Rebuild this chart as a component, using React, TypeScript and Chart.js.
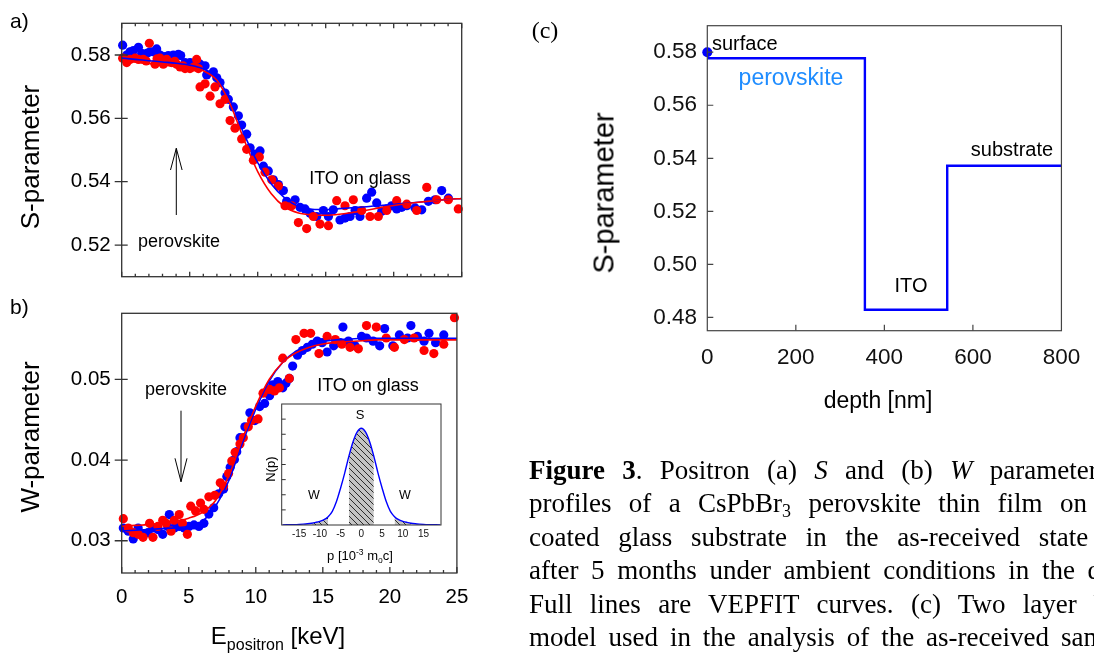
import React, { useEffect, useRef } from "react";
import { Chart, registerables } from "chart.js";
Chart.register(...registerables);

// ---------------- panel (a): S-parameter vs positron energy ----------------
const A_BLUE_E = [0.07,0.37,0.61,0.86,1.23,1.47,1.84,2.08,2.33,2.57,2.82,3.19,3.43,3.8,4.17,4.34,4.66,5.02,5.39,5.76,6.13,6.25,6.74,6.99,7.23,7.6,7.84,8.21,8.58,8.82,9.19,9.44,9.8,10.17,10.42,10.78,11.15,11.52,11.89,12.13,12.75,13.11,13.48,13.85,14.34,14.83,15.2,15.56,16.05,16.42,16.79,17.16,17.52,18.01,18.38,18.75,19.12,19.49,19.85,20.22,20.59,20.96,21.57,22.06,22.55,23.04,23.53,24.02];
const A_BLUE_S = [0.5831,0.58,0.581,0.5814,0.5824,0.5805,0.5805,0.581,0.581,0.5819,0.58,0.5795,0.5798,0.58,0.5802,0.5798,0.5776,0.5776,0.5776,0.5771,0.5766,0.5737,0.5747,0.5728,0.5713,0.568,0.566,0.5636,0.5608,0.5579,0.555,0.5507,0.5487,0.5497,0.5449,0.5434,0.5406,0.5391,0.5372,0.5338,0.5343,0.5319,0.5314,0.53,0.529,0.5309,0.529,0.5311,0.5279,0.5285,0.529,0.5309,0.529,0.5348,0.5367,0.5333,0.5307,0.5314,0.5324,0.5314,0.5319,0.5324,0.5317,0.5311,0.5338,0.5343,0.5372,0.5348];
const A_RED_E = [0.07,0.37,0.61,0.98,1.23,1.59,2.03,2.45,2.82,3.06,3.31,3.68,4.04,4.29,4.66,5.02,5.51,5.64,5.76,6.13,6.5,6.86,7.23,7.6,7.97,8.33,8.82,9.19,9.68,10.12,10.54,11.03,11.52,12.01,12.5,12.99,13.6,14.09,14.58,15.2,15.81,16.42,17.03,17.65,18.26,18.87,19.49,20.22,20.96,21.69,22.43,23.16,24.02,24.75,1.8,2.6,3.9,4.5,5.3];
const A_RED_S = [0.579,0.5776,0.5786,0.579,0.5786,0.5786,0.5837,0.5771,0.579,0.5771,0.5786,0.5776,0.5771,0.5762,0.5757,0.5757,0.5786,0.5757,0.5699,0.5709,0.567,0.5699,0.5646,0.566,0.5593,0.5569,0.5535,0.5502,0.5468,0.5478,0.543,0.5406,0.5386,0.5324,0.5324,0.5271,0.5252,0.529,0.5266,0.5261,0.534,0.5324,0.5343,0.5309,0.529,0.529,0.5309,0.534,0.5329,0.5309,0.5382,0.5343,0.5343,0.5314,0.5781,0.5788,0.578,0.5766,0.5762];
const FIT_E = [0,1,2,3,4,5,6,7,8,9,10,11,12,13,14,15,16,17,18,19,20,21,22,23,24,25];
const A_BLUE_FIT = [0.579,0.5786,0.5782,0.5778,0.5774,0.5768,0.5756,0.5728,0.5655,0.555,0.546,0.5393,0.5348,0.5322,0.5313,0.5312,0.5315,0.5318,0.5321,0.5325,0.5328,0.5332,0.5336,0.534,0.5344,0.5347];
const A_RED_FIT = [0.5785,0.5778,0.5773,0.5768,0.5764,0.576,0.575,0.572,0.5642,0.5532,0.5432,0.5362,0.532,0.5301,0.5295,0.5294,0.5297,0.5303,0.531,0.5318,0.5325,0.5331,0.5336,0.534,0.5344,0.5347];

// ---------------- panel (b): W-parameter ----------------
const B_BLUE_E = [0.12,0.49,0.86,1.23,1.59,1.96,2.33,2.7,3.06,3.43,3.55,3.92,4.29,4.66,5.02,5.39,5.76,6.13,6.5,6.86,7.23,7.6,7.84,8.09,8.41,8.58,8.82,9.19,9.56,9.93,10.29,10.66,11.03,11.27,11.64,12.01,12.25,12.5,12.75,13.11,13.48,13.85,14.22,14.58,14.95,15.32,15.81,16.3,16.5,16.91,17.4,17.89,18.26,18.75,19.24,19.61,20.22,20.71,21.32,21.57,22.06,22.55,22.92,23.41,24.02];
const B_BLUE_W = [0.03158,0.03119,0.03022,0.03158,0.0308,0.031,0.03158,0.03138,0.0308,0.03177,0.03324,0.03158,0.03177,0.03158,0.03177,0.03196,0.03177,0.03216,0.03331,0.03409,0.03582,0.0364,0.03795,0.03911,0.04007,0.04104,0.04278,0.04413,0.04587,0.0449,0.04664,0.04703,0.04799,0.04934,0.04973,0.04896,0.04954,0.05012,0.05166,0.05301,0.05359,0.05398,0.05436,0.05475,0.05456,0.0534,0.05417,0.05456,0.05649,0.05475,0.05417,0.05533,0.05514,0.05475,0.05417,0.0563,0.05417,0.05552,0.05514,0.05668,0.05533,0.05475,0.05572,0.05456,0.05552];
const B_RED_E = [0.12,0.49,0.86,1.23,1.59,2.08,2.33,2.7,3.06,3.31,3.68,3.92,4.29,4.53,4.9,5.15,5.51,5.88,6.13,6.5,6.94,7.35,7.6,7.97,8.21,8.46,8.82,9.07,9.44,9.68,10.17,10.54,11.03,11.4,11.76,12.01,12.5,12.99,13.6,14.09,14.71,15.32,15.93,16.42,17.03,17.65,18.26,18.99,19.73,20.34,21.08,21.81,22.55,23.28,24.02,24.82];
const B_RED_W = [0.03273,0.03158,0.031,0.0308,0.03042,0.03216,0.03042,0.03177,0.03254,0.03216,0.03119,0.03254,0.03324,0.03216,0.0308,0.03428,0.0337,0.03467,0.03389,0.03544,0.03563,0.03718,0.03679,0.03834,0.03988,0.04096,0.042,0.04278,0.04413,0.0449,0.0451,0.0483,0.04876,0.04857,0.04896,0.05263,0.05012,0.05494,0.05572,0.05572,0.05321,0.05533,0.05494,0.05436,0.05398,0.05379,0.05668,0.05649,0.05514,0.05398,0.05494,0.05514,0.05359,0.05321,0.05436,0.05765];
const B_BLUE_FIT = [0.0312,0.0313,0.0314,0.0315,0.0316,0.0318,0.0324,0.0343,0.0375,0.0421,0.0463,0.0498,0.0521,0.0535,0.0543,0.0547,0.0549,0.055,0.0551,0.0551,0.0551,0.0551,0.0551,0.0551,0.0551,0.0551];
const B_RED_FIT = [0.0318,0.0319,0.032,0.0322,0.0324,0.0328,0.0335,0.035,0.0381,0.0426,0.0467,0.05,0.0521,0.0533,0.054,0.0544,0.0546,0.0547,0.0548,0.0549,0.0549,0.0549,0.0549,0.0549,0.0549,0.0549];

// ---------------- inset: momentum distribution N(p) ----------------
const INSET_P = [-19,-18,-17,-16,-15,-14,-13,-12,-11,-10,-9,-8,-7,-6,-5,-4,-3,-2,-1,0,1,2,3,4,5,6,7,8,9,10,11,12,13,14,15,16,17,18,19];
const INSET_N = [0.002,0.003,0.004,0.005,0.008,0.012,0.017,0.024,0.035,0.049,0.07,0.11,0.18,0.31,0.49,0.69,0.91,1.1,1.23,1.28,1.23,1.1,0.91,0.69,0.49,0.31,0.18,0.11,0.07,0.049,0.035,0.024,0.017,0.012,0.008,0.005,0.004,0.003,0.002];
const S_WINDOW = [-3, 3];
const W_WINDOW = [8, 12];

// ---------------- panel (c): VEPFIT two-layer model ----------------
const DEPTH = [0, 356, 542, 800];
const S_PROFILE = [0.5777, 0.4829, 0.5372, 0.5372];
const SURFACE_DEPTH = [0];
const SURFACE_S = [0.58];

// ---------------- ticks ----------------
const E_TICKS = [0, 5, 10, 15, 20, 25];
const E_MINOR = [1,2,3,4,6,7,8,9,11,12,13,14,16,17,18,19,21,22,23,24];
const S_TICKS_A = [0.52, 0.54, 0.56, 0.58];
const W_TICKS_B = [0.03, 0.04, 0.05];
const P_TICKS = [-15, -10, -5, 0, 5, 10, 15];
const N_TICKS = [0.2, 0.4, 0.6, 0.8, 1.0, 1.2, 1.4];
const DEPTH_TICKS = [0, 200, 400, 600, 800];
const DEPTH_INNER = [200, 400, 600];
const S_TICKS_C = [0.48, 0.5, 0.52, 0.54, 0.56, 0.58];

const SANS = "'Liberation Sans', Arial, Helvetica, sans-serif";
const SERIF = "'Liberation Serif', 'Times New Roman', serif";
const BLUE = "#0000ff";
const RED = "#ff0000";

type FrameCfg = {
  color: string; width: number; bg?: string;
  xMajor?: number[]; xMinor?: number[]; xMajorLen?: number; xMinorLen?: number;
  top?: boolean; bottom?: boolean;
  yMajor?: number[]; yIn?: number; yOut?: number;
};

function frame(cfg: FrameCfg) {
  return {
    id: "frame",
    beforeDatasetsDraw(chart: any) {
      if (!cfg.bg) return;
      const { ctx, chartArea: a } = chart;
      ctx.save();
      ctx.fillStyle = cfg.bg;
      ctx.fillRect(a.left, a.top, a.right - a.left, a.bottom - a.top);
      ctx.restore();
    },
    afterDatasetsDraw(chart: any) {
      const { ctx, chartArea: a, scales } = chart;
      const xs = scales.x, ys = scales.y;
      ctx.save();
      ctx.strokeStyle = cfg.color;
      ctx.lineWidth = cfg.width;
      ctx.beginPath();
      const xt = (vals: number[] | undefined, len: number) => {
        (vals || []).forEach((v) => {
          const px = xs.getPixelForValue(v);
          if (cfg.bottom) { ctx.moveTo(px, a.bottom); ctx.lineTo(px, a.bottom - len); }
          if (cfg.top) { ctx.moveTo(px, a.top); ctx.lineTo(px, a.top + len); }
        });
      };
      xt(cfg.xMajor, cfg.xMajorLen || 5);
      xt(cfg.xMinor, cfg.xMinorLen || 3);
      (cfg.yMajor || []).forEach((v) => {
        const py = ys.getPixelForValue(v);
        ctx.moveTo(a.left - (cfg.yOut || 0), py);
        ctx.lineTo(a.left + (cfg.yIn || 0), py);
      });
      ctx.stroke();
      ctx.strokeRect(a.left, a.top, a.right - a.left, a.bottom - a.top);
      ctx.restore();
    },
  };
}

const pts = (xs: number[], ys: number[]) => xs.map((x, i) => ({ x, y: ys[i] }));

const baseOpts = {
  responsive: false,
  animation: false as const,
  events: [] as any[],
  plugins: { legend: { display: false }, tooltip: { enabled: false } },
};

const lineDs = (data: any[], color: string, order: number) => ({
  data, showLine: true, borderColor: color, borderWidth: 1.6, pointRadius: 0,
  cubicInterpolationMode: "monotone" as const, order, fill: false,
});
const dotDs = (data: any[], color: string, order: number) => ({
  data, pointRadius: 4.6, pointBackgroundColor: color, pointBorderWidth: 0,
  pointBorderColor: color, showLine: false, clip: false as any, order,
});

function Txt(p: { x: number; y: number; size: number; children: any; rot?: number; color?: string; family?: string; align?: string; style?: any }) {
  const tx = p.align === "left" ? "0" : p.align === "right" ? "-100%" : "-50%";
  return (
    <div style={{
      position: "absolute", left: p.x, top: p.y, fontSize: p.size, fontFamily: p.family || SANS,
      color: p.color || "#000", whiteSpace: "nowrap", lineHeight: 1,
      transform: `translate(${tx},-50%)${p.rot ? ` rotate(${p.rot}deg)` : ""}`, ...(p.style || {}),
    }}>{p.children}</div>
  );
}

function CapLine(p: { y: number; ws: number; children: any }) {
  return (
    <div style={{
      position: "absolute", left: 529, top: p.y - 16, fontFamily: SERIF, fontSize: 27,
      lineHeight: "32px", whiteSpace: "nowrap", wordSpacing: p.ws, color: "#000",
    }}>{p.children}</div>
  );
}

export default function App() {
  const aRef = useRef<HTMLCanvasElement>(null);
  const bRef = useRef<HTMLCanvasElement>(null);
  const iRef = useRef<HTMLCanvasElement>(null);
  const cRef = useRef<HTMLCanvasElement>(null);

  useEffect(() => {
    const charts: Chart[] = [];
    const tickFont = { family: SANS, size: 20.5 };

    // panel a
    charts.push(new Chart(aRef.current!, {
      type: "scatter",
      data: { datasets: [
        lineDs(pts(FIT_E, A_RED_FIT), RED, 0),
        lineDs(pts(FIT_E, A_BLUE_FIT), BLUE, 1),
        dotDs(pts(A_RED_E, A_RED_S), RED, 2),
        dotDs(pts(A_BLUE_E, A_BLUE_S), BLUE, 3),
      ] as any },
      options: {
        ...baseOpts,
        layout: { padding: { left: 0, top: 18.3, right: 18.3, bottom: 4.3 } },
        scales: {
          x: { type: "linear", min: 0, max: 25, display: false },
          y: {
            type: "linear", min: 0.51, max: 0.59,
            afterFit: (s: any) => { s.width = 121.7; },
            afterBuildTicks: (s: any) => { s.ticks = S_TICKS_A.map((v) => ({ value: v })); },
            grid: { display: false, drawTicks: false }, border: { display: false },
            ticks: { padding: 11, color: "#000", font: tickFont, callback: (v: any) => Number(v).toFixed(2) },
          },
        },
      } as any,
      plugins: [frame({ color: "#333", width: 1.3, xMajor: E_TICKS, xMinor: E_MINOR, xMajorLen: 5, xMinorLen: 3, top: true, bottom: true, yMajor: S_TICKS_A, yIn: 6, yOut: 7 })] as any,
    }));

    // panel b
    charts.push(new Chart(bRef.current!, {
      type: "scatter",
      data: { datasets: [
        lineDs(pts(FIT_E, B_RED_FIT), RED, 0),
        lineDs(pts(FIT_E, B_BLUE_FIT), BLUE, 1),
        dotDs(pts(B_RED_E, B_RED_W), RED, 2),
        dotDs(pts(B_BLUE_E, B_BLUE_W), BLUE, 3),
      ] as any },
      options: {
        ...baseOpts,
        layout: { padding: { left: 0, top: 5.7, right: 18.3, bottom: 0 } },
        scales: {
          x: {
            type: "linear", min: 0, max: 25,
            afterFit: (s: any) => { s.height = 77; },
            afterBuildTicks: (s: any) => { s.ticks = E_TICKS.map((v) => ({ value: v })); },
            grid: { display: false, drawTicks: false }, border: { display: false },
            ticks: { padding: 11.7, color: "#000", font: tickFont, maxRotation: 0, autoSkip: false },
          },
          y: {
            type: "linear", min: 0.026, max: 0.0582,
            afterFit: (s: any) => { s.width = 121.7; },
            afterBuildTicks: (s: any) => { s.ticks = W_TICKS_B.map((v) => ({ value: v })); },
            grid: { display: false, drawTicks: false }, border: { display: false },
            ticks: { padding: 11, color: "#000", font: tickFont, callback: (v: any) => Number(v).toFixed(2) },
          },
        },
      } as any,
      plugins: [frame({ color: "#333", width: 1.3, xMajor: E_TICKS, xMinor: E_MINOR, xMajorLen: 6, xMinorLen: 3, bottom: true, yMajor: W_TICKS_B, yIn: 6, yOut: 7 })] as any,
    }));

    // inset
    const pc = document.createElement("canvas");
    pc.width = 6; pc.height = 6;
    const g = pc.getContext("2d")!;
    g.fillStyle = "#c4c4c4"; g.fillRect(0, 0, 6, 6);
    g.strokeStyle = "#1a1a1a"; g.lineWidth = 0.9;
    g.beginPath();
    g.moveTo(0, 0); g.lineTo(6, 6);
    g.moveTo(-3, 3); g.lineTo(3, 9);
    g.moveTo(3, -3); g.lineTo(9, 3);
    g.stroke();
    const ictx = iRef.current!.getContext("2d")!;
    const pattern = ictx.createPattern(pc, "repeat");
    const win = (lo: number, hi: number) => pts(INSET_P, INSET_N).filter((d) => d.x >= lo && d.x <= hi);
    const fillDs = (data: any[]) => ({
      data, showLine: true, borderWidth: 0, borderColor: "rgba(0,0,0,0)", pointRadius: 0,
      cubicInterpolationMode: "monotone" as const, fill: "origin", backgroundColor: pattern, order: 2,
    });
    charts.push(new Chart(iRef.current!, {
      type: "scatter",
      data: { datasets: [
        { ...lineDs(pts(INSET_P, INSET_N), BLUE, 0), borderWidth: 1.4 },
        fillDs(win(S_WINDOW[0], S_WINDOW[1])),
        fillDs(win(W_WINDOW[0], W_WINDOW[1])),
        fillDs(win(-W_WINDOW[1], -W_WINDOW[0])),
      ] as any },
      options: {
        ...baseOpts,
        layout: { padding: { left: 26.7, top: 6, right: 14, bottom: 0 } },
        scales: {
          x: {
            type: "linear", min: -19.2, max: 19.2,
            afterFit: (s: any) => { s.height = 38; },
            afterBuildTicks: (s: any) => { s.ticks = P_TICKS.map((v) => ({ value: v })); },
            grid: { display: false, drawTicks: false }, border: { display: false },
            ticks: { padding: 3.4, color: "#111", font: { family: SANS, size: 10 }, maxRotation: 0, autoSkip: false },
          },
          y: { type: "linear", min: 0, max: 1.6, display: false },
        },
      } as any,
      plugins: [frame({ color: "#333", width: 1, bg: "#ffffff", yMajor: N_TICKS, yIn: 4, yOut: 0 })] as any,
    }));

    // panel c
    charts.push(new Chart(cRef.current!, {
      type: "scatter",
      data: { datasets: [
        { data: pts(DEPTH, S_PROFILE), showLine: true, stepped: "before", borderColor: BLUE, borderWidth: 2.4, pointRadius: 0, fill: false, order: 1 },
        { data: pts(SURFACE_DEPTH, SURFACE_S), pointRadius: 5, pointBackgroundColor: BLUE, pointBorderWidth: 0, clip: false, order: 0 },
      ] as any },
      options: {
        ...baseOpts,
        layout: { padding: { left: 0, top: 25.7, right: 20.7, bottom: 0 } },
        scales: {
          x: {
            type: "linear", min: 0, max: 800,
            afterFit: (s: any) => { s.height = 89.3; },
            afterBuildTicks: (s: any) => { s.ticks = DEPTH_TICKS.map((v) => ({ value: v })); },
            grid: { display: false, drawTicks: false }, border: { display: false },
            ticks: { padding: 13.8, color: "#111", font: { family: SANS, size: 22.5 }, maxRotation: 0, autoSkip: false },
          },
          y: {
            type: "linear", min: 0.475, max: 0.59,
            afterFit: (s: any) => { s.width = 187.3; },
            afterBuildTicks: (s: any) => { s.ticks = S_TICKS_C.map((v) => ({ value: v })); },
            grid: { display: false, drawTicks: false }, border: { display: false },
            ticks: { padding: 10.3, color: "#111", font: { family: SANS, size: 22.5 }, callback: (v: any) => Number(v).toFixed(2) },
          },
        },
      } as any,
      plugins: [frame({ color: "#444", width: 1.2, xMajor: DEPTH_INNER, xMajorLen: 6, bottom: true, yMajor: S_TICKS_C, yIn: 6, yOut: 0 })] as any,
    }));

    return () => charts.forEach((c) => c.destroy());
  }, []);

  const cv = (l: number, t: number, w: number, h: number) => ({ position: "absolute" as const, left: l, top: t, width: w, height: h });

  return (
    <div style={{ position: "fixed", left: 0, top: 0, width: 1094, height: 653, overflow: "hidden", background: "#fff" }}>
      <canvas ref={aRef} width={480} height={300} style={cv(0, 0, 480, 300)} />
      <canvas ref={bRef} width={480} height={360} style={cv(0, 290, 480, 360)} />
      <canvas ref={iRef} width={200} height={165} style={cv(255, 398, 200, 165)} />
      <canvas ref={cRef} width={574} height={420} style={cv(520, 0, 574, 420)} />

      <Txt x={10} y={20} size={21} align="left">a)</Txt>
      <Txt x={10} y={306} size={21} align="left">b)</Txt>
      <Txt x={30} y={157} size={26} rot={-90}>S-parameter</Txt>
      <Txt x={30} y={437} size={26} rot={-90}>W-parameter</Txt>
      <Txt x={179} y={241} size={18}>perovskite</Txt>
      <Txt x={360} y={178} size={18}>ITO on glass</Txt>
      <Txt x={186} y={389} size={18}>perovskite</Txt>
      <Txt x={368} y={385} size={18}>ITO on glass</Txt>
      <Txt x={278} y={636} size={24}>
        E<span style={{ fontSize: 16, position: "relative", top: 6 }}>positron</span> [keV]
      </Txt>

      <Txt x={270} y={469} size={13} rot={-90}>N(p)</Txt>
      <Txt x={360} y={414} size={13}>S</Txt>
      <Txt x={314} y={495} size={12.5}>W</Txt>
      <Txt x={405} y={495} size={12.5}>W</Txt>
      <Txt x={360} y={555} size={13}>
        p [10<span style={{ fontSize: 8.5, position: "relative", top: -5 }}>-3</span> m<span style={{ fontSize: 8.5, position: "relative", top: 3 }}>o</span>c]
      </Txt>

      <Txt x={545} y={30} size={24} family={SERIF}>(c)</Txt>
      <Txt x={604} y={193} size={29} rot={-90}>S-parameter</Txt>
      <Txt x={878} y={400} size={23}>depth [nm]</Txt>
      <Txt x={712} y={43} size={20} align="left">surface</Txt>
      <Txt x={791} y={77} size={23} color="#1e8cff">perovskite</Txt>
      <Txt x={1012} y={149} size={20}>substrate</Txt>
      <Txt x={911} y={285} size={20}>ITO</Txt>

      <svg width={1094} height={653} style={{ position: "absolute", left: 0, top: 0, pointerEvents: "none" }}>
        <g stroke="#000" strokeWidth={1} fill="none">
          <line x1={176.3} y1={215} x2={176.3} y2={148.3} />
          <polyline points="170.5,170 176.3,148.3 182.1,170" />
          <line x1={181} y1={410.7} x2={181} y2={481.7} />
          <polyline points="175,458.3 181,481.7 187,458.3" />
        </g>
      </svg>

      <CapLine y={470} ws={10.5}>
        <b>Figure 3</b>. Positron (a) <i>S</i> and (b) <i>W</i> parameter depth
      </CapLine>
      <CapLine y={503.4} ws={10.6}>
        profiles of a CsPbBr<span style={{ fontSize: 18, position: "relative", top: 5 }}>3</span> perovskite thin film on ITO-
      </CapLine>
      <CapLine y={536.8} ws={12}>coated glass substrate in the as-received state and</CapLine>
      <CapLine y={570.2} ws={5.9}>after 5 months under ambient conditions in the dark.</CapLine>
      <CapLine y={603.6} ws={10.6}>Full lines are VEPFIT curves. (c) Two layer VEPFIT</CapLine>
      <CapLine y={637} ws={5.2}>model used in the analysis of the as-received sample.</CapLine>
    </div>
  );
}
